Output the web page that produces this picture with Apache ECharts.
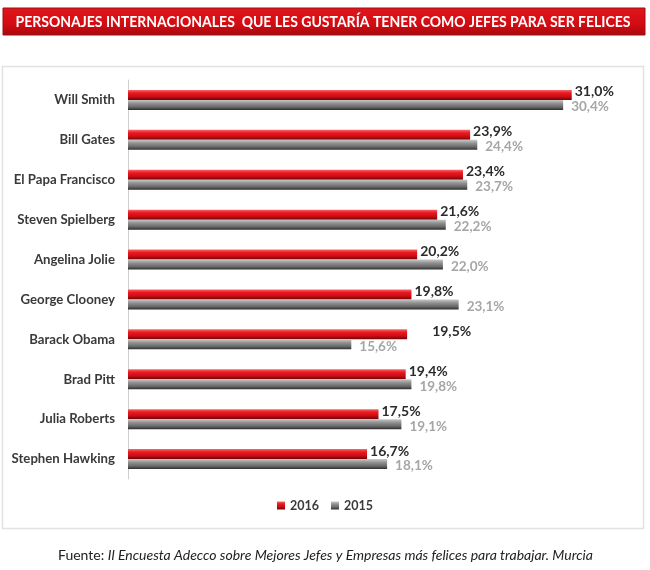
<!DOCTYPE html>
<html><head><meta charset="utf-8">
<script src="https://cdn.jsdelivr.net/npm/echarts@6/dist/echarts.min.js"></script>
<style>html,body{margin:0;padding:0;background:#fff}#c{width:650px;height:570px}</style>
</head><body><div id="c"></div>
<script>
const categories = ['Will Smith','Bill Gates','El Papa Francisco','Steven Spielberg','Angelina Jolie','George Clooney','Barack Obama','Brad Pitt','Julia Roberts','Stephen Hawking'];
const values2016 = [31.0,23.9,23.4,21.6,20.2,19.8,19.5,19.4,17.5,16.7];
const values2015 = [30.4,24.4,23.7,22.2,22.0,23.1,15.6,19.8,19.1,18.1];
const seriesNames = ['2016','2015'];
const titleText = 'PERSONAJES INTERNACIONALES  QUE LES GUSTARÍA TENER COMO JEFES PARA SER FELICES';
const sourceLead = 'Fuente: ';
const sourceText = 'Il Encuesta Adecco sobre Mejores Jefes y Empresas más felices para trabajar. Murcia';

const fmt = v => v.toFixed(1).replace('.', ',') + '%';
const F = 'Lato, "Noto Sans", sans-serif';
const cv = document.createElement('canvas').getContext('2d');
function measure(font, txt){ cv.font = font; return cv.measureText(txt).width; }
const titleFont = 'bold 16px Lato, "Noto Sans", sans-serif';
const titleScale = 615 / measure(titleFont, titleText);
const footW = measure('12.5px Lato', sourceLead) + measure('italic 12.5px Lato', sourceText);
const footScale = 535 / footW;

const chart = echarts.init(document.getElementById('c'));
const redGrad = new echarts.graphic.LinearGradient(0,0,0,1,[
  {offset:0,color:'#f46a6a'},{offset:0.3,color:'#ec1820'},{offset:0.65,color:'#cc0e15'},{offset:1,color:'#6e0507'}]);
const grayGrad = new echarts.graphic.LinearGradient(0,0,0,1,[
  {offset:0,color:'#c8c8c8'},{offset:0.35,color:'#909090'},{offset:0.7,color:'#6a6a6a'},{offset:1,color:'#2e2e2e'}]);
const data2016 = values2016.map((v, i) => i === 6 ? {value: v, label: {offset: [22, -3]}} : v);
chart.setOption({
  animation:false,
  grid:{left:128,top:80,width:501,height:399,containLabel:false},
  xAxis:{type:'value',min:0,max:35,show:false},
  yAxis:{type:'category',data:categories,inverse:true,
    axisLine:{show:true,lineStyle:{color:'#cfcfcf',width:1}},axisTick:{show:false},
    axisLabel:{color:'#3a3a3a',fontWeight:'bold',fontSize:13.2,fontFamily:F,margin:13}},
  legend:{bottom:53,left:'center',itemWidth:8,itemHeight:8,itemGap:12,icon:'rect',
    textStyle:{color:'#3a3a3a',fontWeight:'bold',fontSize:12.5,fontFamily:F},data:seriesNames},
  series:[
    {name:seriesNames[0],type:'bar',data:data2016,barWidth:10,barGap:'0%',
     itemStyle:{color:redGrad},
     label:{show:true,position:'right',distance:3,offset:[0,-3],formatter:p=>fmt(p.value),
       color:'#2b2b2b',fontWeight:'bold',fontSize:14,fontFamily:F}},
    {name:seriesNames[1],type:'bar',data:values2015,barWidth:10,
     itemStyle:{color:grayGrad},
     label:{show:true,position:'right',distance:8,offset:[0,2],formatter:p=>fmt(p.value),
       color:'#a6a6a6',fontWeight:'bold',fontSize:13.5,fontFamily:F}}
  ],
  graphic:[
    {type:'rect',shape:{x:3,y:8,width:642,height:27},z:-1,
     style:{fill:new echarts.graphic.LinearGradient(0,0,0,1,[{offset:0,color:'#e2161d'},{offset:0.6,color:'#d20c12'},{offset:1,color:'#a8080d'}]),stroke:'#9a1015',lineWidth:1}},
    {type:'text',x:323,y:22,scaleX:titleScale,style:{text:titleText,fill:'#fff',font:titleFont,align:'center',verticalAlign:'middle'}},
    {type:'rect',shape:{x:2.5,y:66.5,width:641,height:462},z:-2,style:{fill:'#fff',stroke:'#e2e2e2',lineWidth:1.5}},
    {type:'text',x:58,y:556,scaleX:footScale,style:{rich:{a:{fontFamily:'Lato',fontSize:12.5,fill:'#222'},b:{fontFamily:'Lato',fontSize:12.5,fontStyle:'italic',fill:'#222'}},
      text:'{a|'+sourceLead+'}{b|'+sourceText+'}',verticalAlign:'middle'}}
  ]
});
</script></body></html>
